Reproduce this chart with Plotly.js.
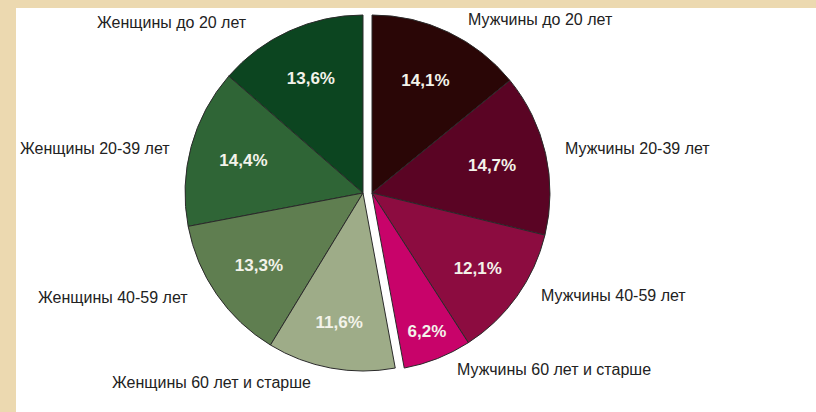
<!DOCTYPE html>
<html>
<head>
<meta charset="utf-8">
<script src="https://cdn.plot.ly/plotly-3.0.1.min.js"></script>
<style>html,body{margin:0;padding:0;background:#ecd9b0;}#chart{width:816px;height:412px;}</style>
</head>
<body>
<div id="chart"></div>
<script>
// Data
const womenLabels = ['Женщины до 20 лет', 'Женщины 20-39 лет', 'Женщины 40-59 лет', 'Женщины 60 лет и старше'];
const womenValues = [13.6, 14.4, 13.3, 11.6];
const menLabels = ['Мужчины до 20 лет', 'Мужчины 20-39 лет', 'Мужчины 40-59 лет', 'Мужчины 60 лет и старше'];
const menValues = [14.1, 14.7, 12.1, 6.2];

// Styles
const womenColors = ['#0c4520', '#2f6536', '#5f7e50', '#9eac88'];
const menColors = ['#2a0606', '#5a0424', '#8c0c40', '#c8036a'];
const womenLabelPos = [[172, 23], [95, 148], [113, 297], [211, 382]];
const menLabelPos = [[540, 20], [637, 148], [613, 295], [554, 369]];

const W = 816, H = 412;
const fmt = v => v.toFixed(1).replace('.', ',') + '%';
const sum = a => a.reduce((s, v) => s + v, 0);
const total = sum(womenValues) + sum(menValues);

function half(labels, values, colors, dir, cx, cy, r) {
  const rest = total - sum(values);
  // Plotly starts a counterclockwise pie with its first slice ending at 12 o'clock;
  // rotate so that the first slice starts there instead.
  const rot = dir === 'counterclockwise' ? -360 * values[0] / total : 0;
  return {
    type: 'pie',
    labels: labels.concat(['_rest_' + dir]),
    values: values.concat([rest]),
    text: values.map(fmt).concat(['']),
    textinfo: 'text',
    textposition: 'inside',
    insidetextorientation: 'horizontal',
    insidetextfont: {family: 'Liberation Sans, Arial, sans-serif', size: 17, color: '#f3f3ea', weight: 'bold'},
    sort: false,
    direction: dir,
    rotation: rot,
    hoverinfo: 'skip',
    showlegend: false,
    marker: {
      colors: colors.concat(['rgba(0,0,0,0)']),
      line: {color: values.map(() => '#2a2a2a').concat(['rgba(0,0,0,0)']), width: values.map(() => 1).concat([0])}
    },
    domain: {x: [(cx - r) / W, (cx + r) / W], y: [(H - cy - r) / H, (H - cy + r) / H]}
  };
}

const traces = [
  half(womenLabels, womenValues, womenColors, 'counterclockwise', 363, 193, 178),
  half(menLabels, menValues, menColors, 'clockwise', 372, 193, 178)
];

const annotations = womenLabels.map((t, i) => ({text: t, x: womenLabelPos[i][0] / W, y: 1 - womenLabelPos[i][1] / H}))
  .concat(menLabels.map((t, i) => ({text: t, x: menLabelPos[i][0] / W, y: 1 - menLabelPos[i][1] / H})))
  .map(a => Object.assign(a, {xref: 'paper', yref: 'paper', xanchor: 'center', yanchor: 'middle', showarrow: false,
    font: {family: 'Liberation Sans, Arial, sans-serif', size: 16, color: '#222222'}}));

const layout = {
  width: W, height: H,
  margin: {l: 0, r: 0, t: 0, b: 0},
  paper_bgcolor: '#ecd9b0',
  separators: ', ',
  shapes: [{type: 'rect', xref: 'paper', yref: 'paper', x0: 16 / W, x1: 1, y0: 0, y1: 1 - 8 / H,
    fillcolor: '#ffffff', line: {width: 0}, layer: 'below'}],
  annotations: annotations
};

Plotly.newPlot('chart', traces, layout, {displayModeBar: false, staticPlot: true});
</script>
</body>
</html>
